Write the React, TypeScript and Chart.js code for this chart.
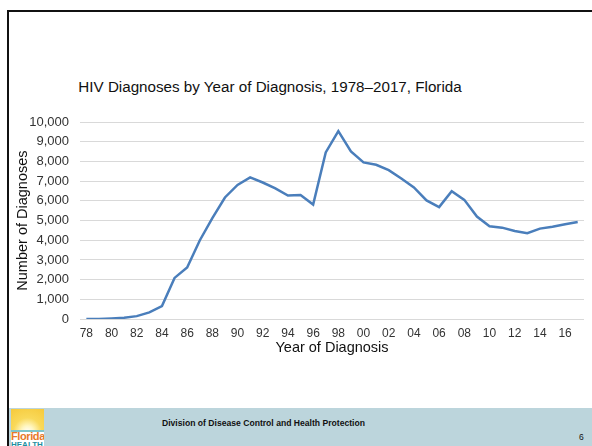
import React, { useEffect, useRef } from "react";
import { Chart, registerables } from "chart.js";

Chart.register(...registerables);

const years: string[] = [
  "78", "79", "80", "81", "82", "83", "84", "85", "86", "87",
  "88", "89", "90", "91", "92", "93", "94", "95", "96", "97",
  "98", "99", "00", "01", "02", "03", "04", "05", "06", "07",
  "08", "09", "10", "11", "12", "13", "14", "15", "16", "17",
];

const diagnoses: number[] = [
  0, 10, 35, 70, 150, 340, 660, 2090, 2620, 3990,
  5120, 6170, 6810, 7190, 6930, 6630, 6270, 6290, 5810, 8460,
  9540, 8510, 7950, 7830, 7560, 7130, 6680, 6020, 5680, 6490,
  6050, 5200, 4710, 4640, 4470, 4360, 4590, 4690, 4810, 4930,
];

const titleText = "HIV Diagnoses by Year of Diagnosis, 1978\u20132017, Florida";
const yAxisTitle = "Number of Diagnoses";
const xAxisTitle = "Year of Diagnosis";
const footerText = "Division of Disease Control and Health Protection";
const pageNumber = "6";

const FONT = "'Liberation Sans', Arial, Helvetica, sans-serif";

export default function App() {
  const canvasRef = useRef<HTMLCanvasElement | null>(null);

  useEffect(() => {
    const canvas = canvasRef.current;
    if (!canvas) return;
    const chart = new Chart(canvas, {
      type: "line",
      data: {
        labels: years,
        datasets: [
          {
            label: "HIV Diagnoses",
            data: diagnoses,
            borderColor: "#4A7EBB",
            backgroundColor: "#4A7EBB",
            borderWidth: 2.5,
            pointRadius: 0,
            tension: 0,
            fill: false,
          },
        ],
      },
      options: {
        responsive: false,
        animation: false,
        devicePixelRatio: 1,
        layout: { padding: { left: 9, right: 8, top: 22, bottom: 5 } },
        plugins: {
          legend: { display: false },
          title: { display: false },
          tooltip: { enabled: false },
        },
        scales: {
          x: {
            offset: true,
            grid: { display: false, drawTicks: false, tickLength: 0 },
            border: { display: false },
            ticks: {
              autoSkip: false,
              maxRotation: 0,
              padding: 7,
              color: "#333333",
              font: { family: FONT, size: 12 },
              callback: function (_v: any, i: number) {
                return i % 2 === 0 ? years[i] : "";
              },
            },
            title: {
              display: true,
              text: xAxisTitle,
              color: "#111111",
              font: { family: FONT, size: 14.5, lineHeight: 1.0 },
              padding: { top: -7, bottom: 0 },
            },
          },
          y: {
            min: 0,
            max: 10000,
            grid: { color: "#D9D9D9", lineWidth: 1, drawTicks: false, tickLength: 0 },
            border: { display: false },
            ticks: {
              stepSize: 1000,
              padding: 11,
              color: "#333333",
              font: { family: FONT, size: 13 },
              callback: function (v: any) {
                return Number(v).toLocaleString("en-US");
              },
            },
            title: {
              display: true,
              text: yAxisTitle,
              color: "#111111",
              font: { family: FONT, size: 14.5, lineHeight: 1.0 },
              padding: { top: 6.5, bottom: -11.7 },
            },
          },
        },
      },
    });
    return () => chart.destroy();
  }, []);

  return (
    <div style={{ position: "fixed", left: 0, top: 0, width: 592, height: 446, background: "#ffffff", overflow: "hidden", fontFamily: FONT }}>
      <div style={{ position: "absolute", left: 7, top: 10, width: 585, height: 436, borderTop: "2px solid #111", borderLeft: "2px solid #111", boxSizing: "border-box" }} />
      <div style={{ position: "absolute", left: 0, top: 77, width: 540, textAlign: "center", fontSize: 15.2, lineHeight: "20px", color: "#111", whiteSpace: "nowrap" }}>
        {titleText}
      </div>
      <canvas ref={canvasRef} width={592} height={260} style={{ position: "absolute", left: 0, top: 100, width: 592, height: 260 }} />
      <div style={{ position: "absolute", left: 9, top: 408, width: 583, height: 38, background: "#BCD5DC" }}>
        <div style={{ position: "absolute", left: 2, top: 1, width: 33, height: 37, overflow: "hidden" }}>
          <div style={{ position: "absolute", left: 0, top: 0, width: 33, height: 23, background: "radial-gradient(circle at 50% 100%, #FFFFFF 0%, #FFF6C0 22%, #F9D95A 50%, #F6C93A 100%)" }} />
          <div style={{ position: "absolute", left: 0, top: 21, width: 33, height: 2, background: "#7FC4C9" }} />
          <div style={{ position: "absolute", left: 0, top: 23, width: 33, height: 14, background: "#FFFFFF" }} />
          <div style={{ position: "absolute", left: 0, top: 22, width: 33, fontSize: 11, lineHeight: "11px", fontWeight: 700, color: "#E8792A", letterSpacing: -0.4 }}>Florida</div>
          <div style={{ position: "absolute", left: 0, top: 32, width: 33, fontSize: 8, lineHeight: "8px", fontWeight: 700, color: "#1F8FA0" }}>HEALTH</div>
        </div>
        <div style={{ position: "absolute", left: 153, top: 10, fontSize: 8.6, lineHeight: "10px", fontWeight: 700, color: "#111", whiteSpace: "nowrap" }}>
          {footerText}
        </div>
        <div style={{ position: "absolute", left: 570, top: 24, fontSize: 8.5, lineHeight: "10px", color: "#111" }}>
          {pageNumber}
        </div>
      </div>
    </div>
  );
}
